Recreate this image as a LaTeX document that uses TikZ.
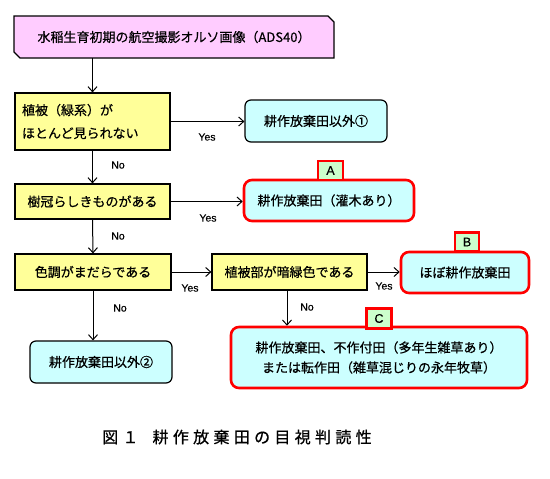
\documentclass[tikz,border=0pt]{standalone}
\usepackage{fontspec}
\setmainfont{Noto Sans CJK JP}[FakeBold=0.6]
\newfontfamily\capfont[LetterSpace=27,FakeBold=0.8]{Noto Sans CJK JP}
\newfontfamily\latfont[FakeBold=0.4]{Liberation Sans}
\usetikzlibrary{arrows.meta}
\definecolor{ybox}{HTML}{FFFF99}
\definecolor{cbox}{HTML}{CCFFFF}
\definecolor{pbox}{HTML}{FFCCFF}
\definecolor{gbox}{HTML}{CCFFCC}
\definecolor{rline}{HTML}{FF0000}
\begin{document}
\begin{tikzpicture}[x=1pt,y=-1pt,
  jbase/.style={inner sep=0pt,font=\fontsize{13}{16}\selectfont},
  decbox/.style={jbase,draw=black,line width=1.2pt,fill=ybox},
  resbox/.style={jbase,draw=black,line width=1.2pt,fill=cbox,rounded corners=6pt},
  redbox/.style={jbase,draw=rline,line width=2.6pt,fill=cbox,rounded corners=8pt},
  tagbox/.style={draw=rline,line width=2.2pt,fill=gbox,inner sep=0pt,font=\latfont\fontsize{12.5}{12.5}\selectfont},
  ynlab/.style={font=\latfont\fontsize{10.5}{10.5}\selectfont,inner sep=0pt},
  arrw/.style={line width=1pt,-{Straight Barb[length=5pt,width=9pt,line width=1pt]}}]
\useasboundingbox (0,0) rectangle (550,479);
% top input box
\filldraw[fill=pbox,draw=black,line width=1.2pt]
  (14,16) -- (328,16) -- (334,22) -- (334,58) -- (20,58) -- (14,52) -- cycle;
\node[jbase,minimum width=320pt,minimum height=42pt] (top) at (174,37) {水稲生育初期の航空撮影オルソ画像（ADS40）};
% decisions
\node[decbox,minimum width=155pt,minimum height=57pt,align=left,text width=141pt,
  font=\fontsize{13}{23}\selectfont] (y1) at (92.5,121.5) {植被（緑系）が\\ほとんど見られない};
\node[decbox,minimum width=155pt,minimum height=35pt] (y2) at (92.5,201.5) {樹冠らしきものがある};
\node[decbox,minimum width=156pt,minimum height=36pt] (y3) at (93,272) {色調がまだらである};
\node[decbox,minimum width=155pt,minimum height=36pt] (y4) at (289.5,272) {植被部が暗緑色である};
% results
\node[resbox,minimum width=142pt,minimum height=42pt] (r1) at (316,121) {耕作放棄田以外①};
\node[redbox,minimum width=170pt,minimum height=41pt] (ra) at (329,200.5) {耕作放棄田（灌木あり）};
\node[redbox,minimum width=128pt,minimum height=41pt] (rb) at (465,272.5) {ほぼ耕作放棄田};
\node[redbox,minimum width=296pt,minimum height=61pt,align=center,
  font=\fontsize{13}{20}\selectfont] (rc) at (379,357.5) {耕作放棄田、不作付田（多年生雑草あり）\\または転作田（雑草混じりの永年牧草）};
\node[resbox,minimum width=142pt,minimum height=42pt] (r2) at (101,362) {耕作放棄田以外②};
% tags
\node[tagbox,minimum width=25pt,minimum height=19pt] (ta) at (330.5,170.5) {A};
\node[tagbox,minimum width=24pt,minimum height=19pt] (tb) at (467,242) {B};
\node[tagbox,minimum width=25pt,minimum height=20pt] (tc) at (379,318.5) {C};
% connectors
\draw[arrw] (top.south -| y1.north) -- (y1.north);
\draw[arrw] (y1.east) -- (y1.east -| r1.west);
\draw[arrw] (y1.south) -- (y2.north);
\draw[arrw] (y2.east) -- (y2.east -| ra.west);
\draw[arrw] (y2.south) -- (y3.north);
\draw[arrw] (y3.east) -- (y4.west);
\draw[arrw] (y4.east) -- (y4.east -| rb.west);
\draw[arrw] ([xshift=-2.5pt]y4.south) -- ([xshift=-2.5pt]y4.south |- rc.north);
\draw[arrw] (y3.south) -- (y3.south |- r2.north);
% labels
\node[ynlab] (l1) at (207,137) {Yes};
\node[ynlab] (l2) at (118,165) {No};
\node[ynlab] (l3) at (208,218) {Yes};
\node[ynlab] (l4) at (118,236) {No};
\node[ynlab] (l5) at (190,288) {Yes};
\node[ynlab] (l6) at (120,308) {No};
\node[ynlab] (l7) at (384,286) {Yes};
\node[ynlab] (l8) at (307,307) {No};
% caption
\node[anchor=west,inner sep=0pt,font=\capfont\fontsize{16}{16}\selectfont] (cap) at (102,437) {図１\hspace{14pt}耕作放棄田の目視判読性};
\end{tikzpicture}
\end{document}
